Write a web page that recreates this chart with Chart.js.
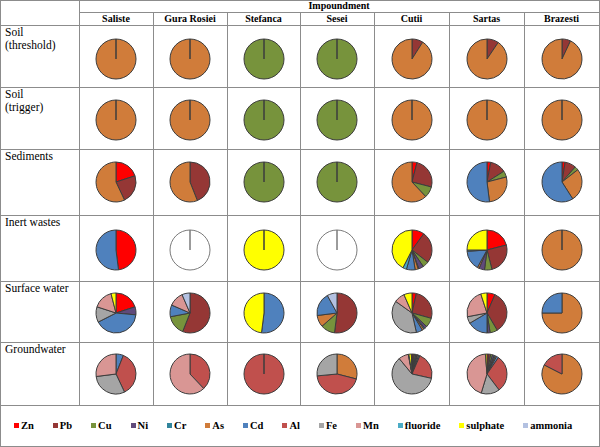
<!DOCTYPE html>
<html>
<head>
<meta charset="utf-8">
<script src="https://cdn.jsdelivr.net/npm/chart.js@4.4.1/dist/chart.umd.min.js"></script>
<style>
  body { margin: 0; background: #fff; }
  #sheet { position: relative; width: 600px; height: 447px; overflow: hidden;
           font-family: "Liberation Serif", "Times New Roman", serif; color: #000; }
  .hl, .vl { position: absolute; background: #8c8c8c; }
  .hl { height: 1px; }
  .vl { width: 1px; }
  .colhead { position: absolute; font-weight: bold; font-size: 10px; text-align: center; line-height: 12px; }
  .rowhead { position: absolute; left: 5px; font-size: 11.5px; line-height: 13px; }
  .pie { position: absolute; }
  #legend { position: absolute; left: 14px; top: 405px; height: 41px; display: flex; align-items: center;
            gap: 19px; font-weight: bold; font-size: 10.5px; }
  #legend span.sw { display: inline-block; width: 5px; height: 5px; margin-right: 2px; vertical-align: 1px; }
</style>
</head>
<body>
<div id="sheet"></div>
<script>
// Категории и цвета
const elements = ['Zn', 'Pb', 'Cu', 'Ni', 'Cr', 'As', 'Cd', 'Al', 'Fe', 'Mn', 'fluoride', 'sulphate', 'ammonia'];
const elementColors = ['#FF0000', '#953735', '#77933C', '#604A7B', '#31859C', '#D07C3A', '#4F81BD',
                       '#C0504D', '#A5A5A5', '#D99694', '#4BACC6', '#FFFF00', '#B3C1E1'];
const impoundments = ['Saliste', 'Gura Rosiei', 'Stefanca', 'Sesei', 'Cutii', 'Sartas', 'Brazesti'];
const media = [['Soil', '(threshold)'], ['Soil', '(trigger)'], ['Sediments'], ['Inert wastes'], ['Surface water'], ['Groundwater']];

// Доли (%) по элементам, порядок как в elements; null = пустая диаграмма
//                  Zn   Pb   Cu  Ni  Cr   As   Cd   Al   Fe   Mn  F  SO4  NH4
const soilThreshold = [
    [0, 0, 0, 0, 0, 100, 0, 0, 0, 0, 0, 0, 0],
    [0, 0, 0, 0, 0, 100, 0, 0, 0, 0, 0, 0, 0],
    [0, 0, 100, 0, 0, 0, 0, 0, 0, 0, 0, 0, 0],
    [0, 0, 100, 0, 0, 0, 0, 0, 0, 0, 0, 0, 0],
    [0, 9, 0, 0, 0, 91, 0, 0, 0, 0, 0, 0, 0],
    [0, 9.5, 0, 0, 0, 90.5, 0, 0, 0, 0, 0, 0, 0],
    [0, 7, 0, 0, 0, 93, 0, 0, 0, 0, 0, 0, 0]
];
const soilTrigger = [
    [0, 0, 0, 0, 0, 100, 0, 0, 0, 0, 0, 0, 0],
    [0, 0, 0, 0, 0, 100, 0, 0, 0, 0, 0, 0, 0],
    [0, 0, 100, 0, 0, 0, 0, 0, 0, 0, 0, 0, 0],
    [0, 0, 100, 0, 0, 0, 0, 0, 0, 0, 0, 0, 0],
    [0, 0, 0, 0, 0, 100, 0, 0, 0, 0, 0, 0, 0],
    [0, 0, 0, 0, 0, 100, 0, 0, 0, 0, 0, 0, 0],
    [0, 0, 0, 0, 0, 100, 0, 0, 0, 0, 0, 0, 0]
];
const sediments = [
    [20, 23, 0, 0, 0, 57, 0, 0, 0, 0, 0, 0, 0],
    [0, 44, 0, 0, 0, 56, 0, 0, 0, 0, 0, 0, 0],
    [0, 0, 100, 0, 0, 0, 0, 0, 0, 0, 0, 0, 0],
    [0, 0, 100, 0, 0, 0, 0, 0, 0, 0, 0, 0, 0],
    [4, 25, 9, 0, 0, 62, 0, 0, 0, 0, 0, 0, 0],
    [3, 13, 5, 0, 0, 27, 52, 0, 0, 0, 0, 0, 0],
    [2.5, 9, 3, 0, 0, 26.5, 59, 0, 0, 0, 0, 0, 0]
];
const inertWastes = [
    [48, 0, 0, 0, 0, 0, 52, 0, 0, 0, 0, 0, 0],
    null,
    [0, 0, 0, 0, 0, 0, 0, 0, 0, 0, 0, 100, 0],
    null,
    [10, 25.5, 5, 4, 0.5, 2.5, 7, 0, 0, 0, 3, 42.5, 0],
    [21, 25, 6, 4.5, 0, 1.5, 16, 0, 0, 0, 1, 25, 0],
    [0, 0, 0, 0, 0, 100, 0, 0, 0, 0, 0, 0, 0]
];
const surfaceWater = [
    [20, 0, 0, 6.5, 0, 0, 41, 0, 12.5, 16, 0, 4, 0],
    [0, 56, 16, 0, 0, 0, 9.5, 0, 0, 12, 0, 0, 6.5],
    [0, 0, 0, 0, 0, 0, 52, 0, 0, 0, 0, 48, 0],
    [0, 52, 11.5, 0, 0, 9.5, 19, 0, 0, 0, 0, 0, 8],
    [3.5, 25.5, 7.5, 2, 1, 1.5, 5, 0, 38, 8.5, 0, 6.5, 0],
    [6.5, 35, 6, 2, 0.5, 0, 16.5, 0, 5.5, 23, 0, 5, 0],
    [0, 0, 0, 0, 0, 75, 25, 0, 0, 0, 0, 0, 0]
];
const groundwater = [
    [0, 0, 0, 0, 0, 0, 6, 37, 30, 27, 0, 0, 0],
    [0, 0, 0, 0, 0, 0, 0, 38, 0, 62, 0, 0, 0],
    [0, 0, 0, 0, 0, 0, 0, 100, 0, 0, 0, 0, 0],
    [0, 0, 0, 0, 0, 29, 0, 44.5, 26.5, 0, 0, 0, 0],
    [1, 1, 1, 1, 0.5, 1, 1, 22, 60.5, 8, 0.5, 2, 0.5],
    [1.5, 1.5, 1.5, 1.5, 1, 1, 1.7, 30, 15, 44, 0, 1.3, 0],
    [0, 0, 0, 0, 0, 82.5, 0, 17.5, 0, 0, 0, 0, 0]
];
const rowsData = [soilThreshold, soilTrigger, sediments, inertWastes, surfaceWater, groundwater];

// Сетка таблицы
const colX = [0, 79, 153, 227, 300, 374, 449, 524, 599];
const rowY = [0, 12, 25, 87, 149, 215, 281, 342, 405, 446];
const pieY = [59, 120, 182, 250, 313, 374];
const pieBox = 46;

const sheet = document.getElementById('sheet');

function addLine(cls, x, y, len) {
    const d = document.createElement('div');
    d.className = cls;
    d.style.left = x + 'px';
    d.style.top = y + 'px';
    if (cls === 'hl') d.style.width = len + 'px'; else d.style.height = len + 'px';
    sheet.appendChild(d);
}

// Горизонтальные линии
addLine('hl', 0, 0, 600);
addLine('hl', 79, 12, 521);
rowY.slice(2).forEach(y => addLine('hl', 0, y, 600));
// Вертикальные линии
addLine('vl', 0, 0, 447);
addLine('vl', 79, 0, 405);
colX.slice(2, 8).forEach(x => addLine('vl', x, 12, 393));
addLine('vl', 599, 0, 447);

// Заголовки
const imp = document.createElement('div');
imp.className = 'colhead';
imp.style.left = '79px'; imp.style.width = '520px'; imp.style.top = '0px';
imp.textContent = 'Impoundment';
sheet.appendChild(imp);

impoundments.forEach((name, c) => {
    const d = document.createElement('div');
    d.className = 'colhead';
    d.style.left = colX[c + 1] + 'px';
    d.style.width = (colX[c + 2] - colX[c + 1]) + 'px';
    d.style.top = '13px';
    d.textContent = name;
    sheet.appendChild(d);
});

media.forEach((lines, r) => {
    const d = document.createElement('div');
    d.className = 'rowhead';
    d.style.top = (rowY[r + 2] + 1) + 'px';
    d.innerHTML = lines.join('<br>');
    sheet.appendChild(d);
});

// Круговые диаграммы
rowsData.forEach((row, r) => {
    row.forEach((values, c) => {
        const cx = (colX[c + 1] + colX[c + 2]) / 2;
        const cv = document.createElement('canvas');
        cv.className = 'pie';
        cv.width = pieBox; cv.height = pieBox;
        cv.style.left = (cx - pieBox / 2) + 'px';
        cv.style.top = (pieY[r] - pieBox / 2) + 'px';
        sheet.appendChild(cv);

        const empty = values === null;
        new Chart(cv.getContext('2d'), {
            type: 'pie',
            data: {
                labels: empty ? ['none'] : elements,
                datasets: [{
                    data: empty ? [1] : values,
                    backgroundColor: empty ? ['#FFFFFF'] : elementColors,
                    borderColor: empty ? '#7a7a7a' : '#3c3c3c',
                    borderWidth: 1
                }]
            },
            options: {
                responsive: false,
                animation: false,
                events: [],
                radius: 20,
                layout: { padding: 0 },
                plugins: { legend: { display: false }, tooltip: { enabled: false } }
            }
        });
    });
});

// Легенда
const legend = document.createElement('div');
legend.id = 'legend';
legend.innerHTML = elements
    .map((name, i) => `<div><span class="sw" style="background:${elementColors[i]}"></span>${name}</div>`)
    .join('');
sheet.appendChild(legend);
</script>
</body>
</html>
